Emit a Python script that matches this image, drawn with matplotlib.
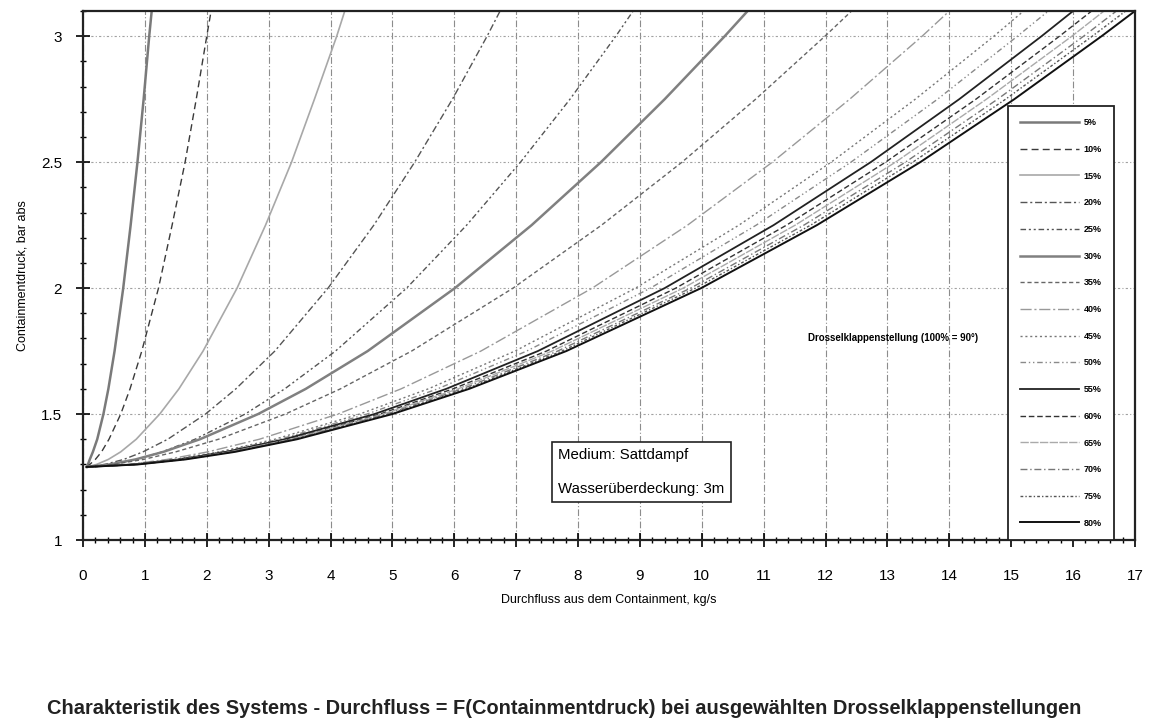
import matplotlib
matplotlib.use("Agg")
import matplotlib.pyplot as plt
from matplotlib.ticker import MultipleLocator

plt.rcParams['font.family'] = ['Liberation Sans', 'DejaVu Sans']

# Containment pressure levels (bar abs) shared by every curve
pressure = [1.29, 1.30, 1.32, 1.35, 1.40, 1.50, 1.60, 1.75, 2.00, 2.25, 2.50, 2.75, 3.00, 3.10]

# Flow (kg/s) at the pressure levels above
flow_05 = [0.06, 0.08, 0.11, 0.16, 0.23, 0.33, 0.41, 0.51, 0.65, 0.77, 0.88, 0.98, 1.07, 1.11]
flow_10 = [0.06, 0.11, 0.20, 0.30, 0.42, 0.61, 0.76, 0.95, 1.22, 1.44, 1.65, 1.83, 2.00, 2.07]
flow_15 = [0.06, 0.22, 0.41, 0.61, 0.86, 1.24, 1.55, 1.94, 2.49, 2.95, 3.37, 3.74, 4.10, 4.23]
flow_20 = [0.06, 0.35, 0.66, 0.97, 1.37, 1.98, 2.47, 3.10, 3.96, 4.70, 5.36, 5.97, 6.53, 6.74]
flow_25 = [0.06, 0.46, 0.87, 1.28, 1.81, 2.62, 3.26, 4.08, 5.23, 6.20, 7.07, 7.87, 8.61, 8.89]
flow_30 = [0.06, 0.43, 0.85, 1.30, 1.89, 2.83, 3.60, 4.60, 6.01, 7.25, 8.37, 9.40, 10.37, 10.74]
flow_35 = [0.06, 0.49, 0.98, 1.50, 2.19, 3.27, 4.16, 5.31, 6.95, 8.38, 9.68, 10.87, 11.99, 12.42]
flow_40 = [0.06, 0.73, 1.36, 2.02, 2.85, 4.12, 5.14, 6.43, 8.23, 9.77, 11.14, 12.39, 13.56, 14.00]
flow_45 = [0.06, 0.79, 1.48, 2.20, 3.10, 4.47, 5.58, 6.98, 8.93, 10.60, 12.09, 13.45, 14.72, 15.20]
flow_50 = [0.06, 0.81, 1.52, 2.25, 3.18, 4.59, 5.73, 7.17, 9.17, 10.88, 12.41, 13.81, 15.10, 15.60]
flow_55 = [0.06, 0.84, 1.56, 2.31, 3.26, 4.71, 5.87, 7.35, 9.40, 11.16, 12.73, 14.16, 15.49, 16.00]
flow_60 = [0.06, 0.85, 1.59, 2.35, 3.32, 4.80, 5.98, 7.49, 9.58, 11.37, 12.97, 14.43, 15.78, 16.30]
flow_65 = [0.06, 0.86, 1.61, 2.38, 3.36, 4.85, 6.06, 7.58, 9.70, 11.51, 13.13, 14.60, 15.98, 16.50]
flow_70 = [0.06, 0.87, 1.63, 2.41, 3.40, 4.91, 6.13, 7.67, 9.82, 11.65, 13.29, 14.78, 16.17, 16.70]
flow_75 = [0.06, 0.88, 1.64, 2.43, 3.43, 4.96, 6.19, 7.74, 9.90, 11.76, 13.41, 14.91, 16.31, 16.85]
flow_80 = [0.06, 0.89, 1.66, 2.46, 3.46, 5.00, 6.24, 7.81, 9.99, 11.86, 13.53, 15.05, 16.46, 17.00]

openings = ['5%', '10%', '15%', '20%', '25%', '30%', '35%', '40%',
            '45%', '50%', '55%', '60%', '65%', '70%', '75%', '80%']
flows = [flow_05, flow_10, flow_15, flow_20, flow_25, flow_30, flow_35, flow_40,
         flow_45, flow_50, flow_55, flow_60, flow_65, flow_70, flow_75, flow_80]

x_ticks = list(range(0, 18))
y_ticks = [1, 1.5, 2, 2.5, 3]
y_ticklabels = ['1', '1.5', '2', '2.5', '3']

# Line styles for each opening (colour, width, dash pattern)
styles = [
    dict(color='#7a7a7a', lw=1.8, ls='-'),
    dict(color='#3a3a3a', lw=1.0, ls=(0, (5, 3))),
    dict(color='#a8a8a8', lw=1.2, ls='-'),
    dict(color='#555555', lw=1.0, ls=(0, (5, 2, 1.5, 2))),
    dict(color='#555555', lw=1.0, ls=(0, (4, 2, 1.5, 2, 1.5, 2))),
    dict(color='#808080', lw=1.8, ls='-'),
    dict(color='#666666', lw=1.0, ls=(0, (3, 2))),
    dict(color='#999999', lw=1.0, ls=(0, (8, 2, 1.5, 2))),
    dict(color='#777777', lw=1.0, ls=(0, (1.5, 2))),
    dict(color='#8a8a8a', lw=1.0, ls=(0, (4, 2, 1, 2, 1, 2))),
    dict(color='#222222', lw=1.3, ls='-'),
    dict(color='#333333', lw=1.0, ls=(0, (4, 2))),
    dict(color='#aaaaaa', lw=1.0, ls=(0, (6, 1))),
    dict(color='#777777', lw=1.0, ls=(0, (5, 2, 1, 2))),
    dict(color='#555555', lw=1.0, ls=(0, (2, 1.5, 1, 1.5))),
    dict(color='#111111', lw=1.4, ls='-'),
]

fig = plt.figure(figsize=(11.5, 7.2), dpi=100)
ax = fig.add_axes([83 / 1150, 1 - 540 / 720, (1135 - 83) / 1150, (540 - 11) / 720])

handles = []
for lab, fl, st in zip(openings, flows, styles):
    h, = ax.plot(fl, pressure, color=st['color'], lw=st['lw'], linestyle=st['ls'], label=lab)
    handles.append(h)

ax.set_xlim(0, 17)
ax.set_ylim(1, 3.1)
ax.set_xticks(x_ticks)
ax.set_yticks(y_ticks)
ax.set_yticklabels(y_ticklabels)
ax.xaxis.set_minor_locator(MultipleLocator(0.2))
ax.yaxis.set_minor_locator(MultipleLocator(0.1))
ax.tick_params(axis='x', which='major', direction='inout', length=10, width=1.2, pad=16, labelsize=11)
ax.tick_params(axis='x', which='minor', direction='inout', length=5, width=1.0)
ax.tick_params(axis='y', which='major', direction='inout', length=10, width=1.2, pad=10, labelsize=11)
ax.tick_params(axis='y', which='minor', direction='inout', length=5, width=1.0)

ax.grid(True, which='major', axis='x', color='#8c8c8c', lw=0.8, linestyle=(0, (6, 2, 1, 2)))
ax.grid(True, which='major', axis='y', color='#a0a0a0', lw=0.8, linestyle=(0, (2, 2, 1, 2)))
ax.set_axisbelow(True)
for sp in ax.spines.values():
    sp.set_linewidth(1.6)
    sp.set_color('#222222')

ax.set_xlabel('Durchfluss aus dem Containment, kg/s', fontsize=9, labelpad=8)
ax.set_ylabel('Containmentdruck, bar abs', fontsize=9, labelpad=9)

# text box
ax.text(7.68, 1.27, 'Medium: Sattdampf\n\nWasserüberdeckung: 3m', fontsize=10.8,
        ha='left', va='center', linespacing=1.3,
        bbox=dict(boxstyle='square,pad=0.4', fc='white', ec='#222222', lw=1.2))

leg = ax.legend(handles=handles, loc='upper left',
                bbox_to_anchor=(1008 / 1150, 1 - 540 / 720, (1114 - 1008) / 1150, 434 / 720),
                bbox_transform=fig.transFigure, mode='expand',
                prop=dict(size=6.5, weight='bold'), handlelength=6.5, handletextpad=0.5,
                labelspacing=1.96, borderpad=1.35, fancybox=False, framealpha=1,
                edgecolor='#222222', borderaxespad=0)
leg.get_frame().set_linewidth(1.3)

fig.text(893 / 1150, 1 - 338 / 720, 'Drosselklappenstellung (100% = 90°)', fontsize=7,
         weight='bold', ha='center', va='center')

fig.text(47 / 1150, 1 - 708 / 720,
         'Charakteristik des Systems - Durchfluss = F(Containmentdruck) bei ausgewählten Drosselklappenstellungen',
         fontsize=14.4, ha='left', va='center', weight='bold', color='#222222')

fig.savefig('out.png', dpi=100)
